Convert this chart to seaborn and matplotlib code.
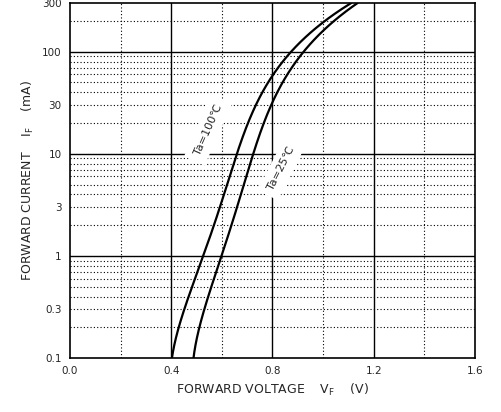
import numpy as np
import pandas as pd
import matplotlib
matplotlib.use("Agg")
import matplotlib.pyplot as plt
import seaborn as sns

# curves
current_ma = [0.1, 0.3, 1, 3, 10, 30, 100, 300]
vf_100 = [0.40, 0.46, 0.52, 0.59, 0.656, 0.75, 0.86, 1.115]
vf_25 = [0.485, 0.54, 0.59, 0.66, 0.72, 0.81, 0.91, 1.14]

x_ticks = [0.0, 0.4, 0.8, 1.2, 1.6]
y_ticks = [0.1, 0.3, 1, 3, 10, 30, 100, 300]
y_labels = ["0.1", "0.3", "1", "3", "10", "30", "100", "300"]

df = pd.concat([
    pd.DataFrame({"vf": vf_100, "if": current_ma, "ta": "100"}),
    pd.DataFrame({"vf": vf_25, "if": current_ma, "ta": "25"}),
])

sns.set_style("white")
plt.rcParams["font.family"] = ["DejaVu Sans", "Noto Sans CJK JP"]

fig = plt.figure(figsize=(5.02, 4.12), dpi=100)
ax = fig.add_axes([70 / 502, 54 / 412, 405 / 502, 355 / 412])

for x in [0.2, 0.6, 1.0, 1.4]:
    ax.axvline(x, color="black", ls=(0, (1, 2)), lw=0.8, zorder=1)
for x in [0.4, 0.8, 1.2]:
    ax.axvline(x, color="black", lw=1.0, zorder=1)
for d in [0.1, 1, 10, 100]:
    for m in range(2, 10):
        if d * m < 300:
            ax.axhline(d * m, color="black", ls=(0, (1, 2)), lw=0.8, zorder=1)
for y in [1, 10, 100]:
    ax.axhline(y, color="black", lw=1.0, zorder=1)

# smooth curve through the read points (V as a polynomial of log I)
for ta, g in df.groupby("ta"):
    ly = np.log10(g["if"].values)
    coef = np.polyfit(ly, g["vf"].values, 4)
    fine = np.linspace(ly.min(), ly.max(), 300)
    sns.lineplot(x=np.polyval(coef, fine), y=10 ** fine, ax=ax, color="black",
                 lw=1.6, sort=False, zorder=3)

ax.set_yscale("log")
ax.set_xlim(0, 1.6)
ax.set_ylim(0.1, 300)

ax.set_xticks(x_ticks)
ax.set_xticklabels([f"{v:.1f}" for v in x_ticks], fontsize=7.5)
ax.set_yticks(y_ticks)
ax.set_yticklabels(y_labels, fontsize=7.5)
ax.minorticks_off()
ax.tick_params(length=0, pad=6)
for s in ax.spines.values():
    s.set_color("black")
    s.set_linewidth(1.2)
    s.set_zorder(4)

ax.set_xlabel("FORWARD VOLTAGE    V$_\\mathregular{F}$    (V)", fontsize=9)
ax.set_ylabel("FORWARD CURRENT    I$_\\mathregular{F}$    (mA)", fontsize=9)

ax.text(0.545, 17, "Ta=100℃", rotation=66, fontsize=8, ha="center", va="center",
        backgroundcolor="white", zorder=2)
ax.text(0.835, 7.2, "Ta=25℃", rotation=63, fontsize=8, ha="center", va="center",
        backgroundcolor="white", zorder=2)

fig.savefig("out.png", dpi=100)
